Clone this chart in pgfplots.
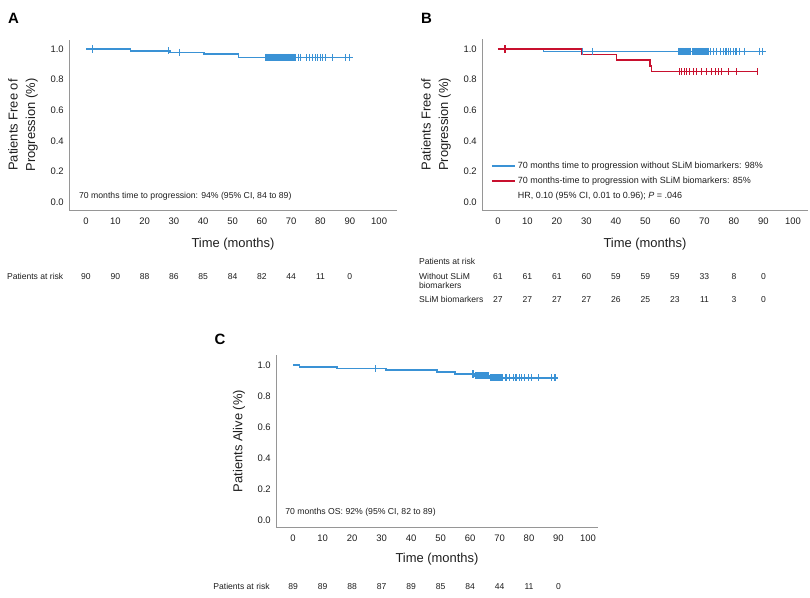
\documentclass[border=0pt]{standalone}
\usepackage{fontspec}
\setmainfont{Liberation Sans}
\usepackage{pgfplots}
\pgfplotsset{compat=1.18}
\definecolor{kmblue}{RGB}{58,146,213}
\definecolor{kmred}{RGB}{200,16,46}
\definecolor{spine}{RGB}{150,150,150}
\definecolor{txt}{RGB}{30,30,30}
\pgfplotsset{
  km/.style={
    scale only axis,
    axis lines*=left,
    axis line style={spine, line width=0.8bp},
    xtick={0,10,20,30,40,50,60,70,80,90,100},
    ytick={0,0.2,0.4,0.6,0.8,1},
    major tick length=0pt,
    /pgf/number format/assume math mode=true,
    tick label style={font=\fontsize{9.5}{11}\selectfont, text=txt},
    yticklabel style={/pgf/number format/fixed, /pgf/number format/fixed zerofill, /pgf/number format/precision=1},
    xticklabel shift=4.4bp,
    yticklabel shift=1.8bp,
    clip=false,
    xlabel={Time (months)},
    xlabel style={font=\fontsize{13}{15}\selectfont, text=txt, anchor=center},
    ylabel style={font=\fontsize{13}{17.5}\selectfont, text=txt, align=center, anchor=center},
  },
  kmline/.style={const plot, line width=1.7bp},
  cens/.style={only marks, mark=|, mark size=3.6bp, mark options={line width=1.1bp}, forget plot},
}
\tikzset{
  risk/.style={font=\fontsize{8.6}{10}\selectfont, text=txt, inner sep=0pt},
  note/.style={font=\fontsize{8.7}{10}\selectfont, text=txt, inner sep=0pt, anchor=west},
  letter/.style={font=\fontsize{15}{17}\selectfont\bfseries, text=black, inner sep=0pt},
}
\begin{document}
\begin{tikzpicture}
\path[use as bounding box] (0bp,0bp) rectangle (810bp,598bp);
\node[letter] at (13.5bp,580bp) {A};
\node[letter] at (426.5bp,580bp) {B};
\node[letter] at (220bp,259bp) {C};

% ---------------- Panel A ----------------
\begin{axis}[km, at={(69bp,388bp)}, anchor=south west,
  width=328bp, height=170bp,
  xmin=-5.8, xmax=106.1, ymin=-0.052, ymax=1.059,
  xlabel style={at={(rel axis cs:0.5,-0.198)}},
  ylabel={Patients Free of\\Progression (\%)},
  ylabel style={at={(rel axis cs:-0.14,0.5)}}]
\addplot[kmline, kmblue] coordinates {(0,1) (15.2,0.989) (28.7,0.978) (40.3,0.966) (52,0.944) (91,0.944)};
\addplot[cens, kmblue] coordinates {(2.3,1) (28.1,0.989) (31.8,0.978)
 (61.1,0.944) (61.4,0.944) (61.7,0.944) (62.0,0.944) (62.3,0.944) (62.6,0.944) (62.9,0.944)
 (63.2,0.944) (63.5,0.944) (63.8,0.944) (64.1,0.944) (64.4,0.944) (64.7,0.944) (65.0,0.944)
 (65.3,0.944) (65.6,0.944) (65.9,0.944) (66.2,0.944) (66.5,0.944) (66.8,0.944) (67.1,0.944)
 (67.4,0.944) (67.7,0.944) (68.0,0.944) (68.3,0.944) (68.6,0.944) (68.9,0.944) (69.2,0.944)
 (69.5,0.944) (69.8,0.944) (70.1,0.944) (70.4,0.944) (70.7,0.944) (71.0,0.944) (71.3,0.944)
 (72.5,0.944) (73.3,0.944) (75.3,0.944) (76.2,0.944) (77.2,0.944) (78.2,0.944) (79.1,0.944)
 (79.9,0.944) (80.8,0.944) (81.6,0.944) (84.1,0.944) (88.4,0.944) (89.9,0.944)};
\node[note] at (axis cs:-2.4,0.041) {70 months time to progression: 94\% (95\% CI, 84 to 89)};
\node[risk, anchor=west] at (axis cs:-27,-0.484) {Patients at risk};
\node[risk] at (axis cs:0,-0.484) {90};
\node[risk] at (axis cs:10,-0.484) {90};
\node[risk] at (axis cs:20,-0.484) {88};
\node[risk] at (axis cs:30,-0.484) {86};
\node[risk] at (axis cs:40,-0.484) {85};
\node[risk] at (axis cs:50,-0.484) {84};
\node[risk] at (axis cs:60,-0.484) {82};
\node[risk] at (axis cs:70,-0.484) {44};
\node[risk] at (axis cs:80,-0.484) {11};
\node[risk] at (axis cs:90,-0.484) {0};
\end{axis}

% ---------------- Panel B ----------------
\begin{axis}[km, at={(482bp,388bp)}, anchor=south west,
  width=326bp, height=171bp,
  xmin=-5.4, xmax=105.1, ymin=-0.052, ymax=1.065,
  xlabel style={at={(rel axis cs:0.5,-0.197)}},
  ylabel={Patients Free of\\Progression (\%)},
  ylabel style={at={(rel axis cs:-0.141,0.5)}},
  legend cell align=left,
  legend style={at={(axis cs:-2.4,0.275)}, anchor=north west, draw=none, fill=none,
    inner sep=0pt, row sep=2.8bp, font=\fontsize{9}{11}\selectfont, text=txt,
    /tikz/every even column/.append style={column sep=2.5bp}}]
\addplot[kmline, kmblue, legend image code/.code={\draw[kmblue, line width=1.8bp] (0bp,0bp) -- (23bp,0bp);}] coordinates {(0,1) (15.4,0.984) (90.7,0.984)};
\addlegendentry{70 months time to progression without SLiM biomarkers: 98\%}
\addplot[kmline, kmred, legend image code/.code={\draw[kmred, line width=1.8bp] (0bp,0bp) -- (23bp,0bp);}] coordinates {(0,1) (28.4,0.963) (40.2,0.926) (51.5,0.889) (52.1,0.852) (88.2,0.852)};
\addlegendentry{70 months-time to progression with SLiM biomarkers: 85\%}
\addlegendimage{empty legend}
\addlegendentry{HR, 0.10 (95\% CI, 0.01 to 0.96); \textit{P} = .046}
\addplot[cens, kmblue] coordinates {(28.6,0.984) (32.2,0.984)
 (61.1,0.984) (61.5,0.984) (61.9,0.984) (62.3,0.984) (62.6,0.984) (63.0,0.984) (63.4,0.984)
 (63.8,0.984) (64.2,0.984) (64.6,0.984) (65.0,0.984) (65.4,0.984) (65.8,0.984) (66.2,0.984)
 (66.6,0.984) (67.0,0.984) (67.4,0.984) (67.8,0.984) (68.2,0.984) (68.6,0.984) (69.0,0.984)
 (69.4,0.984) (69.8,0.984) (70.2,0.984) (70.6,0.984) (71.0,0.984) (71.5,0.984) (71.9,0.984)
 (73.0,0.984) (74.1,0.984) (75.5,0.984) (76.4,0.984) (77.3,0.984) (78.1,0.984) (78.9,0.984)
 (79.8,0.984) (80.7,0.984) (82.0,0.984) (83.7,0.984) (88.6,0.984) (89.7,0.984)};
\addplot[cens, kmred] coordinates {(2.4,1)
 (61.5,0.852) (62.3,0.852) (63.1,0.852) (63.9,0.852) (64.9,0.852) (66.2,0.852) (67.3,0.852)
 (69.0,0.852) (70.7,0.852) (72.4,0.852) (73.6,0.852) (74.7,0.852) (75.8,0.852) (78.1,0.852)
 (80.9,0.852) (88.0,0.852)};
\node[risk, anchor=west] at (axis cs:-26.8,-0.39) {Patients at risk};
\node[risk, anchor=west] at (axis cs:-26.8,-0.484) {Without SLiM};
\node[risk, anchor=west] at (axis cs:-26.8,-0.546) {biomarkers};
\node[risk, anchor=west] at (axis cs:-26.8,-0.636) {SLiM biomarkers};
\node[risk] at (axis cs:0,-0.484) {61};
\node[risk] at (axis cs:10,-0.484) {61};
\node[risk] at (axis cs:20,-0.484) {61};
\node[risk] at (axis cs:30,-0.484) {60};
\node[risk] at (axis cs:40,-0.484) {59};
\node[risk] at (axis cs:50,-0.484) {59};
\node[risk] at (axis cs:60,-0.484) {59};
\node[risk] at (axis cs:70,-0.484) {33};
\node[risk] at (axis cs:80,-0.484) {8};
\node[risk] at (axis cs:90,-0.484) {0};
\node[risk] at (axis cs:0,-0.636) {27};
\node[risk] at (axis cs:10,-0.636) {27};
\node[risk] at (axis cs:20,-0.636) {27};
\node[risk] at (axis cs:30,-0.636) {27};
\node[risk] at (axis cs:40,-0.636) {26};
\node[risk] at (axis cs:50,-0.636) {25};
\node[risk] at (axis cs:60,-0.636) {23};
\node[risk] at (axis cs:70,-0.636) {11};
\node[risk] at (axis cs:80,-0.636) {3};
\node[risk] at (axis cs:90,-0.636) {0};
\end{axis}

% ---------------- Panel C ----------------
\begin{axis}[km, at={(276bp,71bp)}, anchor=south west,
  width=322bp, height=172bp,
  xmin=-5.8, xmax=103.4, ymin=-0.045, ymax=1.065,
  xlabel style={at={(rel axis cs:0.5,-0.186)}},
  ylabel={Patients Alive (\%)},
  ylabel style={at={(rel axis cs:-0.115,0.5)}}]
\addplot[kmline, kmblue] coordinates {(0,1) (2.2,0.989) (15.0,0.977) (31.5,0.966) (48.9,0.954) (54.9,0.943) (61.8,0.931) (66.8,0.918) (89.9,0.918)};
\addplot[cens, kmblue] coordinates {(28.0,0.977) (61.0,0.943)
 (61.9,0.931) (62.2,0.931) (62.5,0.931) (62.8,0.931) (63.1,0.931) (63.4,0.931) (63.7,0.931)
 (64.0,0.931) (64.3,0.931) (64.6,0.931) (64.9,0.931) (65.2,0.931) (65.5,0.931) (65.8,0.931)
 (66.1,0.931) (66.4,0.931)
 (66.9,0.918) (67.2,0.918) (67.5,0.918) (67.8,0.918) (68.1,0.918) (68.4,0.918) (68.7,0.918)
 (69.0,0.918) (69.3,0.918) (69.6,0.918) (69.9,0.918) (70.2,0.918) (70.5,0.918)
 (71.1,0.918) (72.2,0.918) (73.3,0.918) (74.7,0.918) (75.6,0.918) (76.7,0.918) (77.5,0.918)
 (78.6,0.918) (79.8,0.918) (80.9,0.918) (83.2,0.918) (87.7,0.918) (88.8,0.918)};
\node[note] at (axis cs:-2.7,0.047) {70 months OS: 92\% (95\% CI, 82 to 89)};
\node[risk, anchor=west] at (axis cs:-27.1,-0.43) {Patients at risk};
\node[risk] at (axis cs:0,-0.43) {89};
\node[risk] at (axis cs:10,-0.43) {89};
\node[risk] at (axis cs:20,-0.43) {88};
\node[risk] at (axis cs:30,-0.43) {87};
\node[risk] at (axis cs:40,-0.43) {89};
\node[risk] at (axis cs:50,-0.43) {85};
\node[risk] at (axis cs:60,-0.43) {84};
\node[risk] at (axis cs:70,-0.43) {44};
\node[risk] at (axis cs:80,-0.43) {11};
\node[risk] at (axis cs:90,-0.43) {0};
\end{axis}
\end{tikzpicture}
\end{document}
